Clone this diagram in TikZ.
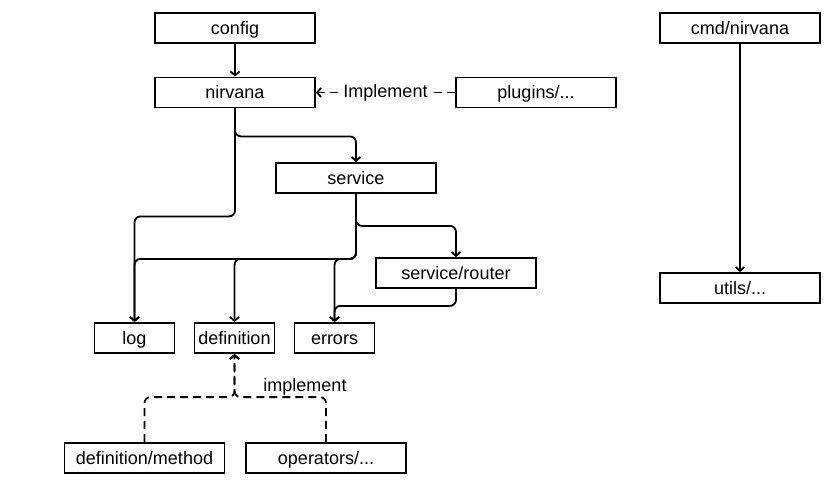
\documentclass[tikz,border=0pt]{standalone}
\usepackage{fontspec}
\setmainfont{Liberation Sans}
\usetikzlibrary{arrows.meta}

\begin{document}
\begin{tikzpicture}[x=1pt,y=-1pt,
  box/.style={draw, line width=1.8pt, minimum width=160pt, minimum height=30pt, inner sep=0pt, text height=14pt, text depth=1.5pt, font=\fontsize{18}{20}\selectfont},
  smallbox/.style={box, minimum width=80pt},
  link/.style={line width=1.8pt, rounded corners=6pt, -{Straight Barb[length=4pt,width=9pt]}},
  impl/.style={link, dash pattern=on 8pt off 5pt},
  lbl/.style={font=\fontsize{18}{20}\selectfont}]
        \useasboundingbox (0,0) rectangle (840,493);

        % Top of the tree
        \node[box] (config) at (235,28) {config};
        \node[box] (nirvana) at (235,92.5) {nirvana};
        \node[box] (plugins) at (536,92.5) {plugins/...};
        \node[box] (service) at (356,178) {service};
        \node[box] (router) at (456,273) {service/router};

        % Leaf packages
        \node[smallbox] (log) at (134.5,338) {log};
        \node[smallbox] (definition) at (234.5,338) {definition};
        \node[smallbox] (errors) at (334.5,338) {errors};
        \node[box] (defmethod) at (144.5,458) {definition/method};
        \node[box] (operators) at (326,458) {operators/...};

        % Command side
        \node[box] (cmd) at (740,28) {cmd/nirvana};
        \node[box] (utils) at (740,288) {utils/...};

        % Dependencies
        \draw[link] (config) -- (nirvana);
        \draw[link] (nirvana.south) -- ++(0,28) -| (service.north);
        \draw[link] (nirvana.south) -- ++(0,108) -| (log.north);
        \draw[link] (service.south) -- ++(0,65) -| (log.north);
        \draw[link] (service.south) -- ++(0,65) -| (definition.north);
        \draw[link] (service.south) -- ++(0,65) -| (errors.north);
        \draw[link] (service.south) -- ++(0,32) -| (router.north);
        \draw[link] (router.south) -- ++(0,17) -| (errors.north);
        \draw[link] (cmd) -- (utils);

        % Implementations
        \draw[impl] (plugins) -- node[lbl, fill=white, inner sep=2pt] (plugimpl) {Implement} (nirvana);
        \draw[impl] (defmethod.north) -- ++(0,-45) -| (definition.south);
        \draw[impl] (operators.north) -- ++(0,-45) -| (definition.south);
        \node[lbl] (defimpl) at (305,387) {implement};

\end{tikzpicture}
\end{document}
